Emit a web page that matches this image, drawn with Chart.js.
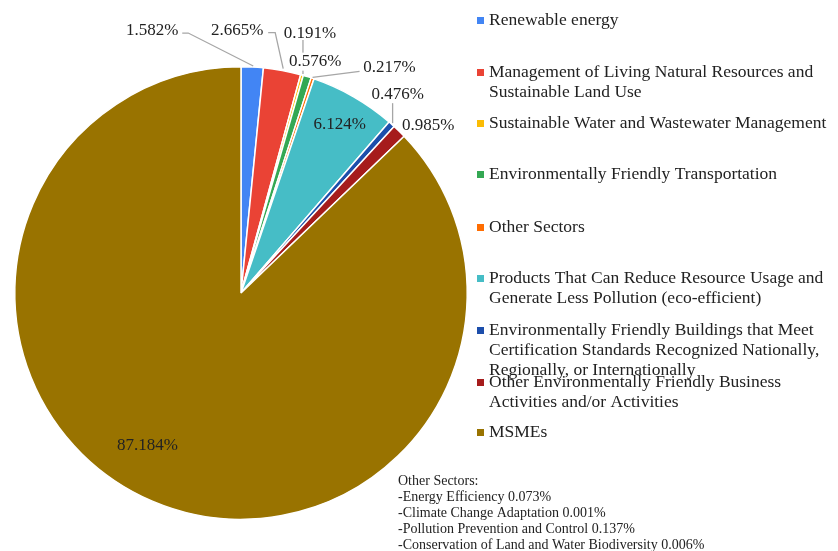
<!DOCTYPE html>
<html>
<head>
<meta charset="utf-8">
<script src="https://cdn.jsdelivr.net/npm/chart.js@4"></script>
<style>
  html, body { margin: 0; padding: 0; background: #fff; }
  #chart { display: block; }
</style>
</head>
<body>
<canvas id="chart" width="838" height="551"></canvas>
<script>
// data
const categories = [
  ['Renewable energy'],
  ['Management of Living Natural Resources and', 'Sustainable Land Use'],
  ['Sustainable Water and Wastewater Management'],
  ['Environmentally Friendly Transportation'],
  ['Other Sectors'],
  ['Products That Can Reduce Resource Usage and', 'Generate Less Pollution (eco-efficient)'],
  ['Environmentally Friendly Buildings that Meet', 'Certification Standards Recognized Nationally,', 'Regionally, or Internationally'],
  ['Other Environmentally Friendly Business', 'Activities and/or Activities'],
  ['MSMEs']
];
const shares = [1.582, 2.665, 0.191, 0.576, 0.217, 6.124, 0.476, 0.985, 87.184];

const otherSectorNames = ['Energy Efficiency', 'Climate Change Adaptation', 'Pollution Prevention and Control', 'Conservation of Land and Water Biodiversity'];
const otherSectorShares = [0.073, 0.001, 0.137, 0.006];

const colors = ['#4285F4', '#EA4335', '#FBBC04', '#34A853', '#FF6D01', '#46BDC6', '#1C4EAB', '#A61C1C', '#997300'];

const serif = '"Liberation Serif", "Times New Roman", serif';
const textColor = '#222';

// label placement relative to the outer mid point of each slice
// t = text centre offset, line = leader points, bg = white box behind text
const labelSpots = [
  { t: [-100, -36], line: [[-70, -34], [-64, -34], [1, -1]] },
  { t: [-45, -40], line: [[-14, -38], [-7, -38], [1, -2]] },
  { t: [8, -42], line: [[1, -35], [1, -1]] },
  { t: [8, -15], bg: true },
  { t: [77, -11], line: [[47, -7], [0, -1]] },
  { t: [-14, 28] },
  { t: [6, -30], line: [[1, -21], [1, -1]] },
  { t: [29, -6] },
  { t: [-5, -56] }
];

const legendTops = [20, 72, 123, 174, 227, 278, 330, 382, 432];

const pieLabels = {
  id: 'pieLabels',
  afterDatasetsDraw(chart) {
    const ctx = chart.ctx;
    const arcs = chart.getDatasetMeta(0).data;
    ctx.save();
    ctx.font = '17px ' + serif;
    ctx.textAlign = 'center';
    ctx.textBaseline = 'middle';

    const anchors = arcs.map(arc => {
      const mid = (arc.startAngle + arc.endAngle) / 2;
      return [arc.x + arc.outerRadius * Math.cos(mid), arc.y + arc.outerRadius * Math.sin(mid)];
    });

    // leader lines first
    ctx.strokeStyle = '#a6a6a6';
    ctx.lineWidth = 1.3;
    labelSpots.forEach((s, i) => {
      if (!s.line) return;
      const [ax, ay] = anchors[i];
      ctx.beginPath();
      s.line.forEach((p, k) => {
        if (k === 0) ctx.moveTo(ax + p[0], ay + p[1]);
        else ctx.lineTo(ax + p[0], ay + p[1]);
      });
      ctx.stroke();
    });

    labelSpots.forEach((s, i) => {
      const [ax, ay] = anchors[i];
      const x = ax + s.t[0];
      const y = ay + s.t[1];
      const txt = shares[i].toFixed(3) + '%';
      if (s.bg) {
        const w = ctx.measureText(txt).width;
        ctx.fillStyle = '#fff';
        ctx.fillRect(x - w / 2 - 2, y - 9, w + 4, 18);
      }
      ctx.fillStyle = textColor;
      ctx.fillText(txt, x, y);
    });
    ctx.restore();
  },
  afterDraw(chart) {
    const ctx = chart.ctx;
    ctx.save();
    // legend
    ctx.font = '17.5px ' + serif;
    ctx.textAlign = 'left';
    ctx.textBaseline = 'middle';
    categories.forEach((lines, i) => {
      const y = legendTops[i];
      ctx.fillStyle = colors[i];
      ctx.fillRect(477, y - 3, 7, 7);
      ctx.fillStyle = textColor;
      lines.forEach((ln, k) => ctx.fillText(ln, 489, y + k * 20));
    });
    // note on other sectors
    ctx.font = '14px ' + serif;
    ctx.fillStyle = textColor;
    ctx.fillText('Other Sectors:', 398, 481);
    otherSectorNames.forEach((n, k) => {
      ctx.fillText('-' + n + ' ' + otherSectorShares[k].toFixed(3) + '%', 398, 497 + k * 16);
    });
    ctx.restore();
  }
};

new Chart(document.getElementById('chart'), {
  type: 'pie',
  data: {
    labels: categories,
    datasets: [{
      data: shares,
      backgroundColor: colors,
      borderColor: '#fff',
      borderWidth: 1.5
    }]
  },
  options: {
    responsive: false,
    animation: false,
    devicePixelRatio: 1,
    layout: { padding: { left: 14, top: 66, right: 370, bottom: 31 } },
    plugins: {
      legend: { display: false },
      tooltip: { enabled: false }
    }
  },
  plugins: [pieLabels]
});
</script>
</body>
</html>
